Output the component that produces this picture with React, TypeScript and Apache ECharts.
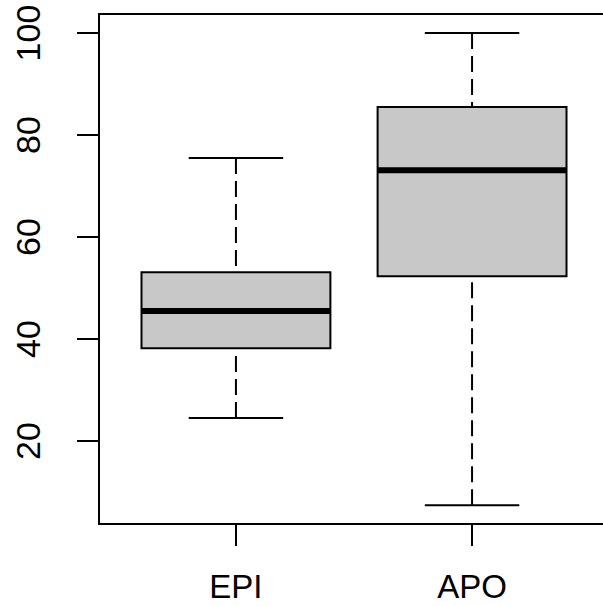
import React, { useEffect, useRef } from "react";
import * as echarts from "echarts";

const categories = ["EPI", "APO"];
const lowerWhisker = [24.5, 7.43];
const q1 = [38.2, 52.3];
const median = [45.5, 73.1];
const q3 = [53.1, 85.5];
const upperWhisker = [75.5, 100];
const yTicks = [20, 40, 60, 80, 100];
const xTicks = [1, 2];

export default function App() {
  const ref = useRef<HTMLDivElement>(null);
  useEffect(() => {
    document.body.style.margin = "0";
    const chart = echarts.init(ref.current!, null, { renderer: "svg" });
    const font = "'Liberation Sans', Arial, sans-serif";
    const data = categories.map((_, i) => [
      i + 1,
      lowerWhisker[i],
      q1[i],
      median[i],
      q3[i],
      upperWhisker[i],
    ]);
    chart.setOption({
      animation: false,
      grid: {
        show: true,
        left: 99,
        top: 14,
        width: 510,
        height: 510,
        outerBoundsMode: "none",
        containLabel: false,
        borderColor: "#000",
        borderWidth: 2,
        backgroundColor: "transparent",
      },
      xAxis: {
        type: "value",
        min: 0.42,
        max: 2.58,
        splitLine: { show: false },
        axisLine: { show: false },
        axisTick: {
          show: true,
          customValues: xTicks,
          length: 22,
          lineStyle: { color: "#000", width: 2 },
        },
        axisLabel: {
          customValues: xTicks,
          formatter: (v: number) => categories[Math.round(v) - 1] ?? "",
          fontSize: 33,
          lineHeight: 28,
          fontFamily: font,
          color: "#000",
          margin: 48,
        },
      },
      yAxis: {
        type: "value",
        min: 3.73,
        max: 103.73,
        splitLine: { show: false },
        axisLine: { show: false },
        axisTick: {
          show: true,
          customValues: yTicks,
          length: 22,
          lineStyle: { color: "#000", width: 2 },
        },
        axisLabel: {
          customValues: yTicks,
          rotate: 90,
          fontSize: 34,
          fontFamily: font,
          color: "#000",
          margin: 54,
        },
      },
      series: [
        {
          type: "custom",
          data,
          encode: { x: 0, y: [1, 2, 3, 4, 5] },
          renderItem: (params: any, api: any) => {
            const x = api.value(0);
            const lo = api.coord([x, api.value(1)]);
            const b1 = api.coord([x, api.value(2)]);
            const md = api.coord([x, api.value(3)]);
            const b3 = api.coord([x, api.value(4)]);
            const hi = api.coord([x, api.value(5)]);
            const left = api.coord([x - 0.4, 0])[0];
            const right = api.coord([x + 0.4, 0])[0];
            const sl = api.coord([x - 0.2, 0])[0];
            const sr = api.coord([x + 0.2, 0])[0];
            const cx = lo[0];
            const lineStyle = { stroke: "#000", lineWidth: 2 };
            const dashed = { stroke: "#000", lineWidth: 2, lineDash: [16, 7] };
            return {
              type: "group",
              children: [
                { type: "line", shape: { x1: cx, y1: lo[1], x2: cx, y2: b1[1] }, style: dashed },
                { type: "line", shape: { x1: cx, y1: hi[1], x2: cx, y2: b3[1] }, style: dashed },
                { type: "line", shape: { x1: sl, y1: lo[1], x2: sr, y2: lo[1] }, style: lineStyle },
                { type: "line", shape: { x1: sl, y1: hi[1], x2: sr, y2: hi[1] }, style: lineStyle },
                {
                  type: "rect",
                  shape: { x: left, y: b3[1], width: right - left, height: b1[1] - b3[1] },
                  style: { fill: "#c8c8c8", stroke: "#000", lineWidth: 2 },
                },
                { type: "line", shape: { x1: left, y1: md[1], x2: right, y2: md[1] }, style: { stroke: "#000", lineWidth: 6 } },
              ],
            };
          },
        },
      ],
    });
    return () => chart.dispose();
  }, []);
  return (
    <div style={{ width: 603, height: 606, overflow: "hidden", position: "relative" }}>
      <div ref={ref} style={{ width: 630, height: 606 }} />
    </div>
  );
}
